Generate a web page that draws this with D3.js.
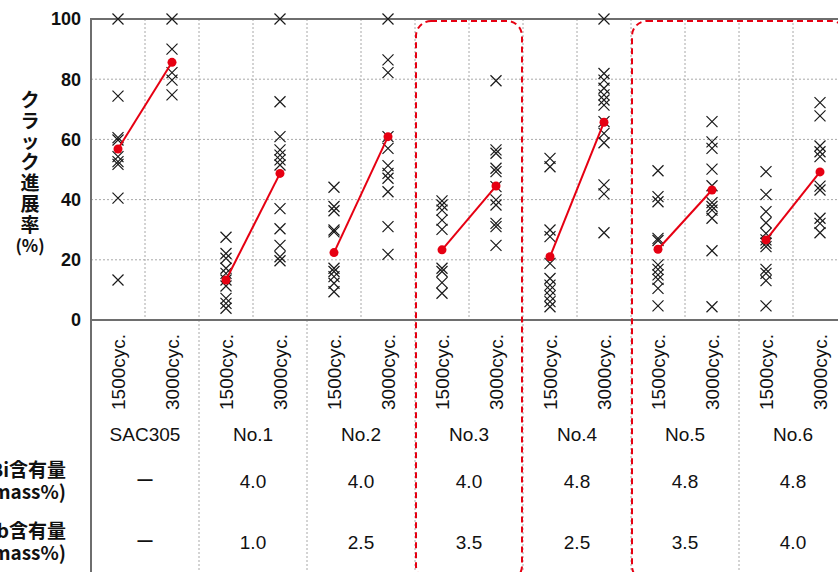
<!DOCTYPE html>
<html>
<head>
<meta charset="utf-8">
<script src="https://cdn.jsdelivr.net/npm/d3@7"></script>
<style>
  body { margin: 0; background: #fff; }
  svg { display: block; font-family: "Liberation Sans", Arial, "Noto Sans CJK JP", sans-serif; }
</style>
</head>
<body>
<div id="chart"></div>
<script>
// ===============================
// Data
// ===============================
const groups = ["SAC305", "No.1", "No.2", "No.3", "No.4", "No.5", "No.6"];
const cycles = ["1500cyc.", "3000cyc."];
const biContent = ["ー", "4.0", "4.0", "4.0", "4.8", "4.8", "4.8"];
const sbContent = ["ー", "1.0", "2.5", "3.5", "2.5", "3.5", "4.0"];
const yTicks = [0, 20, 40, 60, 80, 100];
const yTitle = ["ク", "ラ", "ッ", "ク", "進", "展", "率", "(%)"];
const rowTitles = [["Bi含有量", "(mass%)"], ["Sb含有量", "(mass%)"]];
const highlighted = [["No.3"], ["No.5", "No.6"]];

// individual measurements (crack growth rate, %)
const crack1500 = [
  [100, 74.4, 60.6, 59.8, 54.3, 52.6, 51.7, 40.5, 13.3],
  [27.5, 22.1, 20.5, 17.2, 15.5, 13.3, 11.3, 7.2, 5.5, 3.9],
  [44.1, 37.7, 36.3, 29.9, 29.3, 17.2, 16.1, 14.4, 12.2, 9.4],
  [39.6, 38.2, 36.5, 33.2, 30.1, 17.2, 16.1, 12.4, 8.9],
  [53.7, 50.9, 29.9, 27.7, 18.8, 13.8, 11.6, 10, 8, 6.1, 4.4],
  [49.6, 41, 39.3, 27.1, 26.4, 18.3, 16.8, 15, 13.5, 10.5, 4.7],
  [49.3, 41.7, 36, 32.3, 28.8, 26.6, 25.5, 24.4, 16.8, 15.5, 13.1, 4.7]
];
const crack3000 = [
  [100, 90, 82.2, 79.7, 74.8],
  [100, 72.5, 60.9, 56.5, 54.8, 53.2, 51.5, 37, 30.3, 24.8, 21, 19.7],
  [100, 86.4, 82.2, 60.9, 57, 51.3, 48.7, 47.1, 42.6, 31, 21.8],
  [79.5, 56.5, 55.4, 50.4, 49.3, 44.3, 39.9, 38.2, 32.1, 31, 24.8],
  [100, 81.9, 79.7, 77, 74.8, 73.1, 71.4, 65.9, 62, 58.9, 44.9, 41.9, 29],
  [65.9, 59.2, 57, 50.1, 44.6, 39, 37.7, 36.5, 33.8, 23, 4.4],
  [72.2, 67.8, 57.8, 55.9, 54.3, 44.5, 43.2, 33.8, 32.1, 29]
];
// averages (red)
const mean1500 = [56.8, 13.3, 22.4, 23.3, 21.0, 23.5, 26.6];
const mean3000 = [85.6, 48.7, 60.9, 44.5, 65.7, 43.2, 49.2];

// ===============================
// Layout
// ===============================
const W = 838, H = 572;
const plot = { left: 91, right: 847, top: 19, bottom: 320 };
const red = "#e60012";
const gridColor = "#a8a8a8";
const frameColor = "#6e6e6e";
const crossSize = 5.5;

const columns = [];
groups.forEach(g => cycles.forEach(c => columns.push(g + "|" + c)));

const xCol = d3.scaleBand().domain(columns).range([plot.left, plot.right]).padding(0);
const xGroup = d3.scaleBand().domain(groups).range([plot.left, plot.right]).padding(0);
const y = d3.scaleLinear().domain([0, 100]).range([plot.bottom, plot.top]);
const colX = (g, c) => xCol(g + "|" + c) + xCol.bandwidth() / 2;

const svg = d3.select("#chart").append("svg")
  .attr("width", W)
  .attr("height", H);

// grid lines
const grid = svg.append("g").attr("class", "grid")
  .attr("stroke", gridColor)
  .attr("stroke-width", 1)
  .attr("stroke-dasharray", "2,2");

grid.selectAll("line.h")
  .data(yTicks.filter(t => t > 0 && t < 100))
  .enter().append("line")
  .attr("class", "h")
  .attr("x1", plot.left).attr("x2", W)
  .attr("y1", d => y(d)).attr("y2", d => y(d));

// inner column boundaries inside plot
grid.selectAll("line.v")
  .data(columns.slice(1))
  .enter().append("line")
  .attr("class", "v")
  .attr("x1", d => xCol(d)).attr("x2", d => xCol(d))
  .attr("y1", plot.top).attr("y2", plot.bottom);

// group boundaries through the label table
grid.selectAll("line.g")
  .data(groups.slice(1))
  .enter().append("line")
  .attr("class", "g")
  .attr("x1", d => xGroup(d)).attr("x2", d => xGroup(d))
  .attr("y1", plot.bottom).attr("y2", H);

// frame
const frame = svg.append("g").attr("stroke", frameColor).attr("stroke-width", 2);
frame.append("line").attr("x1", plot.left).attr("x2", plot.left).attr("y1", plot.top - 1).attr("y2", H);
frame.append("line").attr("x1", plot.left).attr("x2", W).attr("y1", plot.top).attr("y2", plot.top);
frame.append("line").attr("x1", plot.left).attr("x2", W).attr("y1", plot.bottom).attr("y2", plot.bottom);

// y tick labels
svg.append("g").selectAll("text")
  .data(yTicks)
  .enter().append("text")
  .attr("x", plot.left - 10)
  .attr("y", d => y(d))
  .attr("dy", "0.36em")
  .attr("text-anchor", "end")
  .attr("font-size", 18)
  .attr("font-weight", 700)
  .attr("fill", "#111")
  .text(d => d);

// y title, stacked vertically
svg.append("g").selectAll("text")
  .data(yTitle)
  .enter().append("text")
  .attr("x", 30)
  .attr("y", (d, i) => 100 + i * 20.8)
  .attr("dy", "0.36em")
  .attr("text-anchor", "middle")
  .attr("font-size", d => d.length > 1 ? 17 : 19)
  .attr("font-weight", 700)
  .attr("font-family", "'Noto Sans CJK JP', sans-serif")
  .attr("fill", "#111")
  .text(d => d);

// highlight boxes (red dashed, rounded)
svg.append("g").selectAll("rect")
  .data(highlighted)
  .enter().append("rect")
  .attr("x", d => xGroup(d[0]) + 1)
  .attr("y", plot.top + 2)
  .attr("width", d => xGroup.bandwidth() * d.length - 2)
  .attr("height", 560)
  .attr("rx", 15).attr("ry", 15)
  .attr("fill", "none")
  .attr("stroke", red)
  .attr("stroke-width", 2)
  .attr("stroke-dasharray", "6,4");

// crosses
const points = [];
groups.forEach((g, i) => {
  crack1500[i].forEach(v => points.push({ g, c: cycles[0], v }));
  crack3000[i].forEach(v => points.push({ g, c: cycles[1], v }));
});
const crossPath = d3.path();
crossPath.moveTo(-crossSize, -crossSize); crossPath.lineTo(crossSize, crossSize);
crossPath.moveTo(-crossSize, crossSize); crossPath.lineTo(crossSize, -crossSize);

svg.append("g").selectAll("path")
  .data(points)
  .enter().append("path")
  .attr("transform", d => `translate(${colX(d.g, d.c)},${y(d.v)})`)
  .attr("d", crossPath.toString())
  .attr("fill", "none")
  .attr("stroke", "#1a1a1a")
  .attr("stroke-width", 1.2);

// mean lines and dots
const means = groups.map((g, i) => [
  { g, c: cycles[0], v: mean1500[i] },
  { g, c: cycles[1], v: mean3000[i] }
]);
const line = d3.line().x(d => colX(d.g, d.c)).y(d => y(d.v));
const meanG = svg.append("g");
meanG.selectAll("path")
  .data(means)
  .enter().append("path")
  .attr("d", line)
  .attr("fill", "none")
  .attr("stroke", red)
  .attr("stroke-width", 2);
meanG.selectAll("circle")
  .data(means.flat())
  .enter().append("circle")
  .attr("cx", d => colX(d.g, d.c))
  .attr("cy", d => y(d.v))
  .attr("r", 4.5)
  .attr("fill", red);

// rotated cycle labels
svg.append("g").selectAll("text")
  .data(columns)
  .enter().append("text")
  .attr("transform", d => `translate(${xCol(d) + xCol.bandwidth() / 2},410) rotate(-90)`)
  .attr("dy", "0.36em")
  .attr("text-anchor", "start")
  .attr("font-size", 19)
  .attr("fill", "#111")
  .text(d => d.split("|")[1]);

// group names and content rows
const table = svg.append("g")
  .attr("font-size", 19)
  .attr("fill", "#111")
  .attr("text-anchor", "middle");
const rows = [
  { y: 434, vals: groups },
  { y: 481, vals: biContent },
  { y: 542, vals: sbContent }
];
rows.forEach(r => {
  table.append("g").selectAll("text")
    .data(r.vals)
    .enter().append("text")
    .attr("x", (d, i) => xGroup(groups[i]) + xGroup.bandwidth() / 2)
    .attr("y", r.y)
    .attr("dy", "0.36em")
    .attr("font-family", d => d === "ー" ? "'Noto Sans CJK JP', sans-serif" : null)
    .text(d => d);
});

// row titles on the left (cropped by the canvas edge, as in the source)
rowTitles.forEach((lines, k) => {
  const cy = rows[k + 1].y;
  svg.append("g").selectAll("text")
    .data(lines)
    .enter().append("text")
    .attr("x", 66)
    .attr("y", (d, i) => cy - 11 + i * 22)
    .attr("dy", "0.36em")
    .attr("text-anchor", "end")
    .attr("font-size", 19)
    .attr("font-weight", 700)
    .attr("font-family", "'Noto Sans CJK JP', sans-serif")
    .attr("fill", "#111")
    .text(d => d);
});
</script>
</body>
</html>
